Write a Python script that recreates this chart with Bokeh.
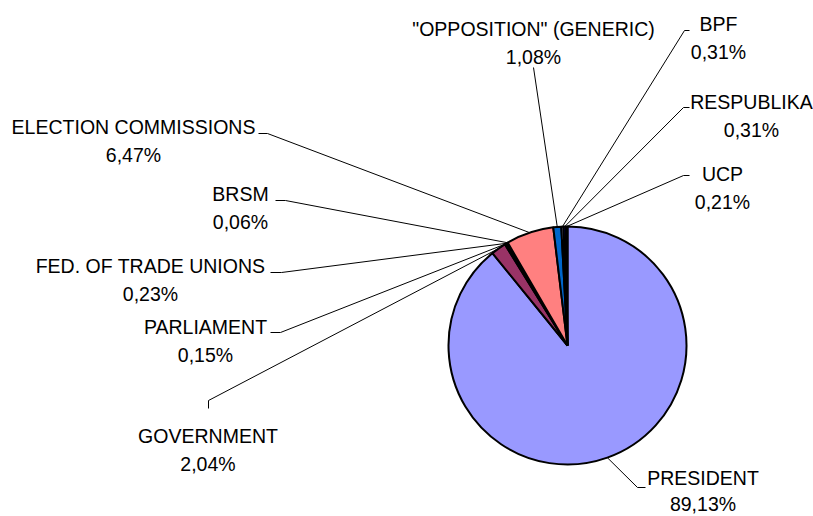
import math
from bokeh.plotting import figure
from bokeh.models import Range1d, ColumnDataSource
from bokeh.core.properties import value
from bokeh.embed import file_html
from bokeh.resources import INLINE

# ---- data ----
categories = ["PRESIDENT", "GOVERNMENT", "PARLIAMENT", "FED. OF TRADE UNIONS", "BRSM",
              "ELECTION COMMISSIONS", "\"OPPOSITION\" (GENERIC)", "BPF", "RESPUBLIKA", "UCP"]
shares = [89.13, 2.04, 0.15, 0.23, 0.06, 6.47, 1.08, 0.31, 0.31, 0.21]
colors = ["#9999FF", "#993366", "#FFFFCC", "#CCFFFF", "#660066",
          "#FF8080", "#0066CC", "#CCCCFF", "#000080", "#FF00FF"]

# ---- layout (page pixel coordinates) ----
W, H = 813, 516
PIE_CX, PIE_CY, PIE_R = 567, 345, 119
LINE_GAP = 28
# label center x, name baseline y, elbow point, end point, line gap
label_layout = {
    "PRESIDENT": (702.5, 477, (637, 487), (645, 487), 26.5),
    "GOVERNMENT": (207.5, 435, (208, 400), (208, 408), LINE_GAP),
    "PARLIAMENT": (205, 326, (280, 332), (270, 332), LINE_GAP),
    "FED. OF TRADE UNIONS": (150, 265, (281, 272), (270, 272), LINE_GAP),
    "BRSM": (240, 193, (285, 200), (275, 200), LINE_GAP),
    "ELECTION COMMISSIONS": (133, 126, (267, 133), (258, 133), LINE_GAP),
    "\"OPPOSITION\" (GENERIC)": (533, 28, (533, 67), (533, 67), LINE_GAP),
    "BPF": (718, 23, (684, 30), (689, 30), LINE_GAP),
    "RESPUBLIKA": (751, 101.5, (683, 107), (689, 107), LINE_GAP),
    "UCP": (722, 173, (683, 175), (689, 175), LINE_GAP),
}

def Y(py):
    return H - py

p = figure(width=W, height=H, output_backend="svg", toolbar_location=None,
           x_range=Range1d(0, W), y_range=Range1d(0, H),
           x_axis_location=None, y_axis_location=None, min_border=0)
p.grid.visible = False
p.outline_line_color = None
p.background_fill_color = "white"

total = sum(shares)
starts, ends, mids = [], [], []
cum = 0.0
for v in shares:
    a0 = math.pi / 2 - 2 * math.pi * cum / total
    cum += v
    a1 = math.pi / 2 - 2 * math.pi * cum / total
    starts.append(a0)
    ends.append(a1)
    mids.append((a0 + a1) / 2)

src = ColumnDataSource(dict(start=starts, end=ends, color=colors, cat=categories))
p.wedge(x=PIE_CX, y=Y(PIE_CY), radius=PIE_R, start_angle="start", end_angle="end",
        direction="clock", fill_color="color", line_color="black", line_width=2, source=src)

# leader lines
xs, ys = [], []
for cat, m in zip(categories, mids):
    _, _, elbow, end, _ = label_layout[cat]
    sx = PIE_CX + PIE_R * math.cos(m)
    sy = Y(PIE_CY) + PIE_R * math.sin(m)
    xs.append([sx, elbow[0], end[0]])
    ys.append([sy, Y(elbow[1]), Y(end[1])])
p.multi_line(xs=xs, ys=ys, line_color="black", line_width=1)

# labels
name_x, name_y, pct_x, pct_y, pct_txt = [], [], [], [], []
for cat, v in zip(categories, shares):
    lx, base, _, _, gap = label_layout[cat]
    name_x.append(lx)
    name_y.append(Y(base))
    pct_x.append(lx)
    pct_y.append(Y(base + gap))
    pct_txt.append(f"{v:.2f}".replace(".", ",") + "%")

p.text(x=name_x, y=name_y, text=categories, text_font=value("Liberation Sans"),
       text_font_size="19.5px", text_align="center", text_baseline="alphabetic", text_color="black")
p.text(x=pct_x, y=pct_y, text=pct_txt, text_font=value("Liberation Sans"),
       text_font_size="19.5px", text_align="center", text_baseline="alphabetic", text_color="black")

open("out.html", "w").write(file_html(p, INLINE))
